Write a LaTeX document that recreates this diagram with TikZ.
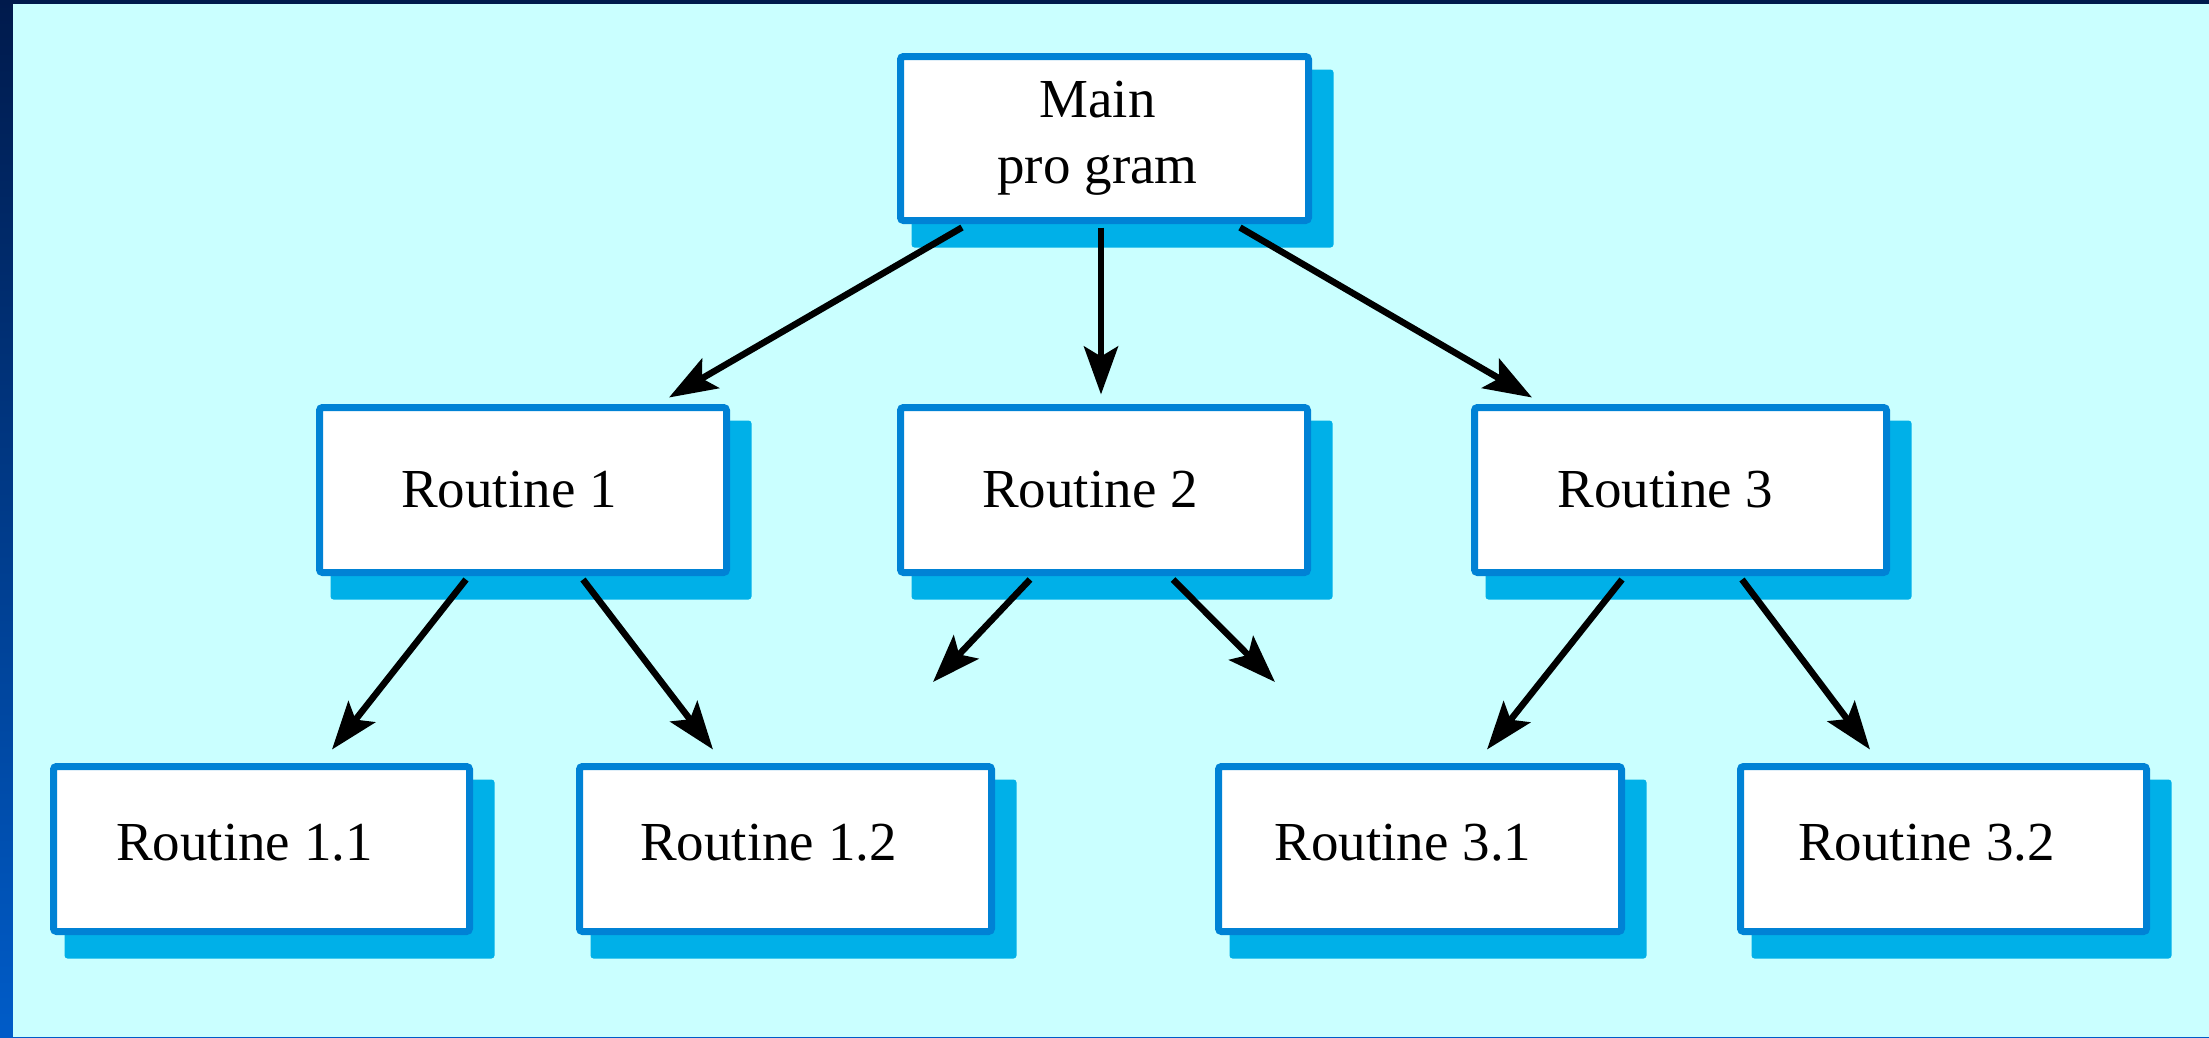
\documentclass[tikz,border=0pt]{standalone}
\usepackage{fontspec}
\setmainfont{Liberation Serif}
\usetikzlibrary{arrows.meta,calc}
\definecolor{bgc}{RGB}{202,255,255}
\definecolor{bordc}{RGB}{0,130,213}
\definecolor{shadc}{RGB}{0,176,232}
\definecolor{navytop}{RGB}{0,26,76}
\definecolor{navybot}{RGB}{0,92,200}
\pgfdeclarelayer{bglayer}
\pgfdeclarelayer{shadlayer}
\pgfsetlayers{bglayer,shadlayer,main}
\begin{document}
\begin{tikzpicture}[x=1pt,y=-1pt,
  box/.style={draw=bordc, line width=7pt, fill=white, rounded corners=3pt,
    inner sep=0pt, font=\fontsize{55}{66}\selectfont, align=center},
  lowbox/.style={box, text height=37pt, text depth=14pt},
  arr/.style={line width=6.5pt, -{Stealth[length=48pt,width=34pt,inset=10pt]}},
  shadowbox/.style={fill=shadc, rounded corners=3pt}]
\useasboundingbox (0,0) rectangle (2209,1037);
\begin{pgfonlayer}{bglayer}
  \shade[top color=navytop, bottom color=navybot] (0,0) rectangle (2209,1037);
  \fill[bgc] (13,4) rectangle (2209,1037);
\end{pgfonlayer}

% boxes
\node[box, minimum width=408pt, minimum height=164pt] (main) at (1104.5,138.5) {Main\hspace*{14pt}\\pro gram\hspace*{14pt}};
\node[box, minimum width=407pt, minimum height=165pt] (r1) at (523,490) {Routine 1\hspace*{28pt}};
\node[box, minimum width=407pt, minimum height=165pt] (r2) at (1104,490) {Routine 2\hspace*{28pt}};
\node[box, minimum width=412pt, minimum height=165pt] (r3) at (1680.5,490) {Routine 3\hspace*{30pt}};
\node[lowbox, minimum width=416pt, minimum height=165pt] (r11) at (261.5,849) {Routine 1.1\hspace*{34pt}};
\node[lowbox, minimum width=412pt, minimum height=165pt] (r12) at (785.5,849) {Routine 1.2\hspace*{34pt}};
\node[lowbox, minimum width=403pt, minimum height=165pt] (r31) at (1420,849) {Routine 3.1\hspace*{34pt}};
\node[lowbox, minimum width=406pt, minimum height=165pt] (r32) at (1943.5,849) {Routine 3.2\hspace*{34pt}};

% shadows
\begin{pgfonlayer}{shadlayer}
  \foreach \n in {main,r1,r2,r3,r11,r12,r31,r32}
    \fill[shadowbox] ([xshift=14.5pt,yshift=-16.5pt]\n.north west) rectangle ([xshift=21.5pt,yshift=-23.5pt]\n.south east);
\end{pgfonlayer}

% free ends
\coordinate (d1) at (933,682);
\coordinate (d2) at (1275,682);

% connectors
\draw[arr] ([xshift=-142.5pt,yshift=-3.5pt]main.south) -- ([xshift=146pt,yshift=6.5pt]r1.north);
\draw[arr] ([xshift=-3.5pt,yshift=-3.5pt]main.south) -- ([xshift=-3pt,yshift=9.5pt]r2.north);
\draw[arr] ([xshift=135.5pt,yshift=-3.5pt]main.south) -- ([xshift=-148.5pt,yshift=6.5pt]r3.north);
\draw[arr] ([xshift=-57pt,yshift=-3.5pt]r1.south) -- ([xshift=70.5pt,yshift=13.5pt]r11.north);
\draw[arr] ([xshift=60pt,yshift=-3.5pt]r1.south) -- ([xshift=-72.5pt,yshift=13.5pt]r12.north);
\draw[arr] ([xshift=-74pt,yshift=-3.5pt]r2.south) -- (d1);
\draw[arr] ([xshift=69pt,yshift=-3.5pt]r2.south) -- (d2);
\draw[arr] ([xshift=-58.5pt,yshift=-3.5pt]r3.south) -- ([xshift=67pt,yshift=13.5pt]r31.north);
\draw[arr] ([xshift=61.5pt,yshift=-3.5pt]r3.south) -- ([xshift=-73.5pt,yshift=13.5pt]r32.north);
\end{tikzpicture}
\end{document}
